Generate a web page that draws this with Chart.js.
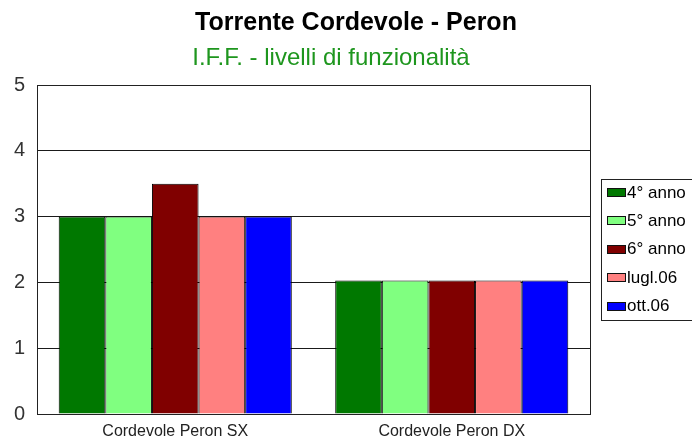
<!DOCTYPE html>
<html>
<head>
<meta charset="utf-8">
<title>Torrente Cordevole - Peron</title>
<script src="https://cdn.jsdelivr.net/npm/chart.js@4/dist/chart.umd.min.js"></script>
<style>
    html, body { margin: 0; padding: 0; background: #fff; }
    canvas { display: block; }
</style>
</head>
<body>
<canvas id="iffChart" width="692" height="441"></canvas>
<script>
// Stazioni e campagne di rilievo
const stazioni = ['Cordevole Peron SX', 'Cordevole Peron DX'];
const campagne = ['4° anno', '5° anno', '6° anno', 'lugl.06', 'ott.06'];
const colori = ['#007800', '#80ff80', '#800000', '#ff8080', '#0000ff'];

// Livelli di funzionalità per campagna (SX, DX)
const anno4 = [3, 2.03];
const anno5 = [3, 2.03];
const anno6 = [3.5, 2.03];
const lugl06 = [3, 2.03];
const ott06 = [3, 2.03];
const livelli = [anno4, anno5, anno6, lugl06, ott06];

const FONT = "'Liberation Sans', Arial, sans-serif";

// Cornice dell'area del grafico
const cornice = {
    id: 'cornice',
    afterDatasetsDraw(chart) {
        const { ctx, chartArea: a } = chart;
        ctx.save();
        ctx.strokeStyle = '#222';
        ctx.lineWidth = 1;
        ctx.strokeRect(Math.round(a.left) + 0.5, Math.round(a.top) + 0.5,
            Math.round(a.right - a.left), Math.round(a.bottom - a.top));
        ctx.restore();
    }
};

// Titoli e legenda disegnati a mano
const titoliELegenda = {
    id: 'titoliELegenda',
    afterDraw(chart) {
        const ctx = chart.ctx;
        ctx.save();
        ctx.textAlign = 'center';
        ctx.textBaseline = 'alphabetic';
        ctx.fillStyle = '#000';
        ctx.font = 'bold 25px ' + FONT;
        ctx.fillText('Torrente Cordevole - Peron', 356, 30);
        ctx.fillStyle = '#1e961e';
        ctx.font = '24px ' + FONT;
        ctx.fillText('I.F.F. - livelli di funzionalità', 331, 65);

        // legenda
        ctx.strokeStyle = '#222';
        ctx.lineWidth = 1;
        ctx.strokeRect(601.5, 179.5, 120, 141);
        ctx.font = '17px ' + FONT;
        ctx.textAlign = 'left';
        ctx.textBaseline = 'middle';
        chart.data.datasets.forEach((ds, i) => {
            const y = 192 + i * 28.4;
            ctx.fillStyle = ds.backgroundColor;
            ctx.fillRect(607.5, Math.round(y - 4) + 0.5, 18, 8);
            ctx.strokeStyle = '#111';
            ctx.strokeRect(607.5, Math.round(y - 4) + 0.5, 18, 8);
            ctx.fillStyle = '#000';
            ctx.fillText(ds.label, 627, y + 1);
        });
        ctx.restore();
    }
};

const ctx = document.getElementById('iffChart').getContext('2d');

new Chart(ctx, {
    type: 'bar',
    data: {
        labels: stazioni,
        datasets: campagne.map((nome, i) => ({
            label: nome,
            data: livelli[i],
            backgroundColor: colori[i],
            borderColor: '#000',
            borderWidth: 1,
            barPercentage: 1,
            categoryPercentage: 0.843
        }))
    },
    options: {
        responsive: false,
        animation: false,
        layout: {
            padding: { top: 85, right: 102, left: 0, bottom: 0 }
        },
        plugins: {
            legend: { display: false },
            title: { display: false },
            tooltip: { enabled: false }
        },
        scales: {
            x: {
                afterFit(scale) { scale.height = 27; },
                grid: { display: false },
                border: { display: true, color: '#222' },
                ticks: {
                    color: '#222',
                    padding: 0,
                    font: { family: FONT, size: 16 }
                }
            },
            y: {
                min: 0,
                max: 5,
                afterFit(scale) { scale.width = 37; },
                grid: { color: '#1a1a1a', lineWidth: 1, drawTicks: false },
                border: { display: true, color: '#222' },
                ticks: {
                    stepSize: 1,
                    color: '#333',
                    padding: 12,
                    font: { family: FONT, size: 20 }
                }
            }
        }
    },
    plugins: [cornice, titoliELegenda]
});
</script>
</body>
</html>
